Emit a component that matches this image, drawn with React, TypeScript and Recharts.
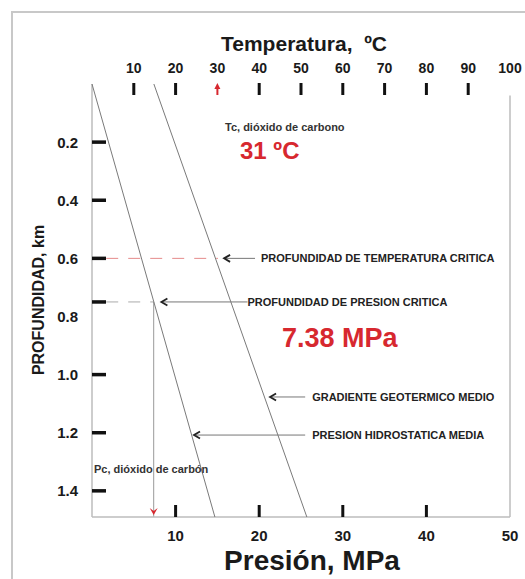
import React from 'react'
import { ScatterChart, Scatter, XAxis, YAxis, ReferenceLine } from 'recharts'

const pressureTicks = [10, 20, 30, 40, 50]
const tempTicks = [10, 20, 30, 40, 50, 60, 70, 80, 90, 100]
// 0.75 only carries a mark, 0.8 only a label (as in the original figure)
const depthTicks = [0.2, 0.4, 0.6, 0.75, 0.8, 1.0, 1.2, 1.4]

// presion hidrostatica media: MPa vs km
const hydrostatic = [
  { p: 0, d: 0 },
  { p: 14.7, d: 1.49 },
]
// gradiente geotermico medio: ºC vs km
const geothermal = [
  { t: 14.8, d: 0 },
  { t: 51.4, d: 1.49 },
]

const tcDepth = 0.6
const pcDepth = 0.75
const criticalPressure = 7.38
const maxDepth = 1.49

const RED = '#d7282f'
const FONT = '"Liberation Sans", Arial, sans-serif'

const geoTempAt = (d: number) =>
  geothermal[0].t + ((geothermal[1].t - geothermal[0].t) * d) / geothermal[1].d

function TempTick(props: any) {
  const { x, y, payload } = props
  const v = payload.value
  return (
    <g>
      <text x={x} y={y - 11} textAnchor="middle" fontSize={14} fontWeight="bold" fill="#1a1a1a">
        {v}
      </text>
      {v < 100 && v !== 30 && <line x1={x} y1={y - 1} x2={x} y2={y + 11} stroke="#111" strokeWidth={3} />}
      {v === 30 && (
        <g>
          <line x1={x} y1={y + 3} x2={x} y2={y + 11} stroke={RED} strokeWidth={2} />
          <path d={`M${x - 3},${y + 5} L${x},${y - 1} L${x + 3},${y + 5} Z`} fill={RED} />
        </g>
      )}
    </g>
  )
}

function PressureTick(props: any) {
  const { x, y, payload } = props
  const v = payload.value
  return (
    <g>
      {v < 50 && <line x1={x} y1={y - 12} x2={x} y2={y} stroke="#111" strokeWidth={3} />}
      <text x={x} y={y + 24} textAnchor="middle" fontSize={15} fontWeight="bold" fill="#1a1a1a">
        {v}
      </text>
    </g>
  )
}

function DepthTick(props: any) {
  const { x, y, payload } = props
  const v = payload.value
  return (
    <g>
      {v !== 0.8 && <line x1={x} y1={y} x2={x + 14} y2={y} stroke="#111" strokeWidth={3.5} />}
      {v !== 0.75 && (
        <text x={x - 14} y={y + 5.5} textAnchor="end" fontSize={15} fontWeight="bold" fill="#1a1a1a">
          {v.toFixed(1)}
        </text>
      )}
    </g>
  )
}

const arrowShape = (text: string, gap: number) => (props: any) => {
  const { x1, y1, x2 } = props
  const left = Math.min(x1, x2)
  const right = Math.max(x1, x2)
  return (
    <g>
      <line x1={left} y1={y1} x2={right} y2={y1} stroke="#777" strokeWidth={1} />
      <path
        d={`M${left + 6},${y1 - 3.5} L${left},${y1} L${left + 6},${y1 + 3.5}`}
        fill="none"
        stroke="#222"
        strokeWidth={1.8}
      />
      <text x={right + gap} y={y1 + 4} fontSize={11} fontWeight="bold" fill="#222">
        {text}
      </text>
    </g>
  )
}

const pcDrop = (props: any) => {
  const { x1, y1, y2 } = props
  const top = Math.min(y1, y2)
  const bottom = Math.max(y1, y2)
  return (
    <g>
      <line x1={x1} y1={top} x2={x1} y2={bottom} stroke="#999" strokeWidth={1} />
      <path d={`M${x1 - 4},${bottom - 9} L${x1},${bottom - 2} L${x1 + 4},${bottom - 9} L${x1},${bottom - 6} Z`} fill={RED} />
    </g>
  )
}

const noDot = () => <g />

function Note({ left, top, center, rotate, size, bold, color, children }: any) {
  return (
    <div
      style={{
        position: 'absolute',
        left,
        top,
        transform: `${center ? 'translate(-50%, -50%)' : 'translateY(-50%)'}${rotate ? ` rotate(${rotate}deg)` : ''}`,
        fontSize: size,
        fontWeight: bold ? 'bold' : 'normal',
        color: color || '#1a1a1a',
        whiteSpace: 'pre',
        lineHeight: 1,
        fontFamily: FONT,
      }}
    >
      {children}
    </div>
  )
}

export default function App() {
  return (
    <div
      style={{
        position: 'absolute',
        left: 0,
        top: 0,
        width: 525,
        height: 579,
        overflow: 'hidden',
        background: '#fff',
        fontFamily: FONT,
      }}
    >
      <div
        style={{
          position: 'absolute',
          left: 11,
          top: 11,
          width: 560,
          height: 620,
          borderTop: '2px solid #c8c8c8',
          borderLeft: '2px solid #c8c8c8',
        }}
      />
      <ScatterChart width={525} height={579} margin={{ top: 44, right: 15, bottom: 32, left: 0 }}>
        <XAxis
          xAxisId="p"
          type="number"
          dataKey="p"
          orientation="bottom"
          domain={[0, 50]}
          ticks={pressureTicks}
          interval={0}
          height={30}
          tickSize={0}
          tickMargin={0}
          tickLine={false}
          axisLine={{ stroke: '#bdbdbd', strokeWidth: 1.5 }}
          tick={(p: any) => <PressureTick {...p} />}
        />
        <XAxis
          xAxisId="t"
          type="number"
          dataKey="t"
          orientation="top"
          domain={[0, 100]}
          ticks={tempTicks}
          interval={0}
          height={40}
          tickSize={0}
          tickMargin={0}
          tickLine={false}
          axisLine={false}
          tick={(p: any) => <TempTick {...p} />}
        />
        <YAxis
          type="number"
          dataKey="d"
          domain={[0, maxDepth]}
          reversed
          ticks={depthTicks}
          interval={0}
          width={92}
          tickSize={0}
          tickMargin={0}
          tickLine={false}
          axisLine={{ stroke: '#bdbdbd', strokeWidth: 1.5 }}
          tick={(p: any) => <DepthTick {...p} />}
        />
        <ReferenceLine
          xAxisId="p"
          segment={[
            { x: 50, y: 0.04 },
            { x: 50, y: maxDepth },
          ]}
          stroke="#bdbdbd"
          strokeWidth={1.5}
        />
        <ReferenceLine
          xAxisId="t"
          segment={[
            { x: 3.4, y: tcDepth },
            { x: geoTempAt(tcDepth) + 0.6, y: tcDepth },
          ]}
          stroke="#e58a8a"
          strokeWidth={1}
          strokeDasharray="12 10"
        />
        <ReferenceLine
          xAxisId="p"
          segment={[
            { x: 1.7, y: pcDepth },
            { x: criticalPressure, y: pcDepth },
          ]}
          stroke="#aaa"
          strokeWidth={1}
          strokeDasharray="12 10"
        />
        <ReferenceLine
          xAxisId="p"
          segment={[
            { x: criticalPressure, y: pcDepth },
            { x: criticalPressure, y: maxDepth },
          ]}
          shape={pcDrop}
        />
        <Scatter
          xAxisId="p"
          data={hydrostatic}
          line={{ stroke: '#7a7a7a', strokeWidth: 1 }}
          shape={noDot}
          isAnimationActive={false}
        />
        <Scatter
          xAxisId="t"
          data={geothermal}
          line={{ stroke: '#7a7a7a', strokeWidth: 1 }}
          shape={noDot}
          isAnimationActive={false}
        />
        <ReferenceLine
          xAxisId="t"
          segment={[
            { x: 31.6, y: tcDepth },
            { x: 39, y: tcDepth },
          ]}
          shape={arrowShape('PROFUNDIDAD DE TEMPERATURA CRITICA', 6)}
        />
        <ReferenceLine
          xAxisId="p"
          segment={[
            { x: 8.3, y: pcDepth },
            { x: 18.6, y: pcDepth },
          ]}
          shape={arrowShape('PROFUNDIDAD DE PRESION CRITICA', 0)}
        />
        <ReferenceLine
          xAxisId="p"
          segment={[
            { x: 21.3, y: 1.077 },
            { x: 25.5, y: 1.077 },
          ]}
          shape={arrowShape('GRADIENTE GEOTERMICO MEDIO', 7)}
        />
        <ReferenceLine
          xAxisId="p"
          segment={[
            { x: 12.2, y: 1.208 },
            { x: 25.5, y: 1.208 },
          ]}
          shape={arrowShape('PRESION HIDROSTATICA MEDIA', 7)}
        />
      </ScatterChart>

      <Note left={304} top={43} center size={21} bold>
        {'Temperatura,  ºC'}
      </Note>
      <Note left={312} top={561} center size={28} bold>
        Presión, MPa
      </Note>
      <Note left={39} top={300} center rotate={-90} size={16} bold>
        PROFUNDIDAD, km
      </Note>
      <Note left={225} top={127} size={11} bold color="#333">
        Tc, dióxido de carbono
      </Note>
      <Note left={240} top={151} size={24} bold color={RED}>
        31 ºC
      </Note>
      <Note left={282} top={338} size={27} bold color={RED}>
        7.38 MPa
      </Note>
      <Note left={94} top={469} size={11} bold color="#333">
        Pc, dióxido de carbón
      </Note>
    </div>
  )
}
